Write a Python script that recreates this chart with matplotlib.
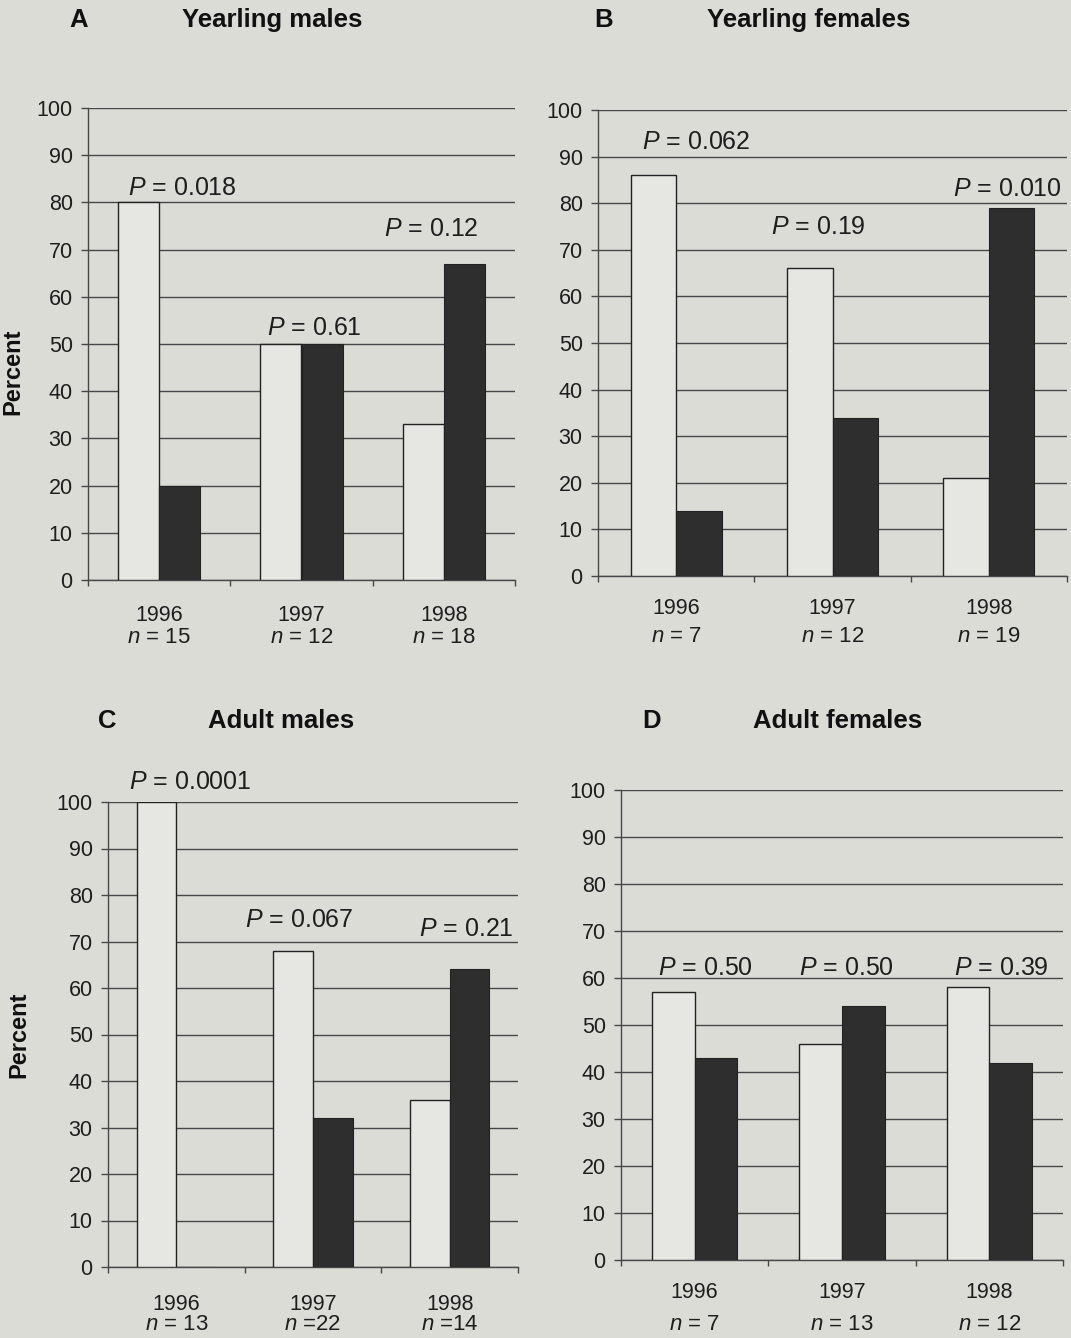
import matplotlib.pyplot as plt

plt.rcParams['font.family'] = ['Liberation Sans', 'DejaVu Sans']
plt.rcParams['mathtext.fontset'] = 'custom'
plt.rcParams['mathtext.rm'] = 'Liberation Sans'
plt.rcParams['mathtext.it'] = 'Liberation Sans:italic'

# ---- data ----
years = ['1996', '1997', '1998']

ym_open = [80, 50, 33]
ym_shaded = [20, 50, 67]
ym_n = ['= 15', '= 12', '= 18']
ym_p = ['0.018', '0.61', '0.12']

yf_open = [86, 66, 21]
yf_shaded = [14, 34, 79]
yf_n = ['= 7', '= 12', '= 19']
yf_p = ['0.062', '0.19', '0.010']

am_open = [100, 68, 36]
am_shaded = [0, 32, 64]
am_n = ['= 13', '=22', '=14']
am_p = ['0.0001', '0.067', '0.21']

af_open = [57, 46, 58]
af_shaded = [43, 54, 42]
af_n = ['= 7', '= 13', '= 12']
af_p = ['0.50', '0.50', '0.39']

# ---- layout (pixels of a 1071x1338 canvas) ----
W, H = 1071, 1338
BG = '#dcdcd7'
OPEN = '#e6e6e2'
SHADED = '#2e2e2e'
LINE = '#474747'

panels = [
    dict(letter='A', title='Yearling males', open=ym_open, shaded=ym_shaded,
         n=ym_n, p=ym_p, box=(88, 515, 108, 580), ylabel=(13, 372),
         letter_xy=(79, 20), title_xy=(272, 20),
         p_xy=[(0.16, 83), (1.09, 53.4), (1.91, 74.3)], lab_off=(35, 57)),
    dict(letter='B', title='Yearling females', open=yf_open, shaded=yf_shaded,
         n=yf_n, p=yf_p, box=(598, 1067, 110, 576), ylabel=None,
         letter_xy=(604, 20), title_xy=(809, 20),
         p_xy=[(0.13, 93.2), (0.91, 74.8), (2.12, 83.0)], lab_off=(33, 61)),
    dict(letter='C', title='Adult males', open=am_open, shaded=am_shaded,
         n=am_n, p=am_p, box=(108, 518, 802, 1267), ylabel=(19, 1035),
         letter_xy=(107, 721), title_xy=(281, 721),
         p_xy=[(0.10, 104.4), (0.90, 74.6), (2.12, 72.7)], lab_off=(37, 57)),
    dict(letter='D', title='Adult females', open=af_open, shaded=af_shaded,
         n=af_n, p=af_p, box=(621, 1063, 790, 1260), ylabel=None,
         letter_xy=(652, 721), title_xy=(838, 721),
         p_xy=[(0.07, 62.2), (1.03, 62.2), (2.08, 62.2)], lab_off=(33, 64)),
]

fig = plt.figure(figsize=(W / 100, H / 100), dpi=100, facecolor=BG)
px2pt = 72 / 100
bw = 0.29

for pan in panels:
    l, r, t, b = pan['box']
    ax = fig.add_axes([l / W, 1 - b / H, (r - l) / W, (b - t) / H])
    ax.set_facecolor(BG)
    x = list(range(len(years)))

    ax.bar([i - bw / 2 for i in x], pan['open'], width=bw, color=OPEN,
           edgecolor='#222222', linewidth=1.0, zorder=3)
    ax.bar([i + bw / 2 for i in x], pan['shaded'], width=bw, color=SHADED,
           edgecolor='#222222', linewidth=0.8, zorder=3)

    ax.set_xlim(-0.5, 2.5)
    ax.set_ylim(0, 100)
    ax.set_yticks(range(0, 101, 10))
    ax.set_xticks([-0.5, 0.5, 1.5, 2.5])
    ax.set_xticklabels([])
    ax.yaxis.grid(True, color=LINE, linewidth=1.0)
    ax.set_axisbelow(True)
    for s in ('top', 'right'):
        ax.spines[s].set_visible(False)
    for s in ('left', 'bottom'):
        ax.spines[s].set_color(LINE)
        ax.spines[s].set_linewidth(1.0)
    ax.tick_params(axis='y', length=5, width=1, color=LINE, pad=6,
                   labelsize=15.5, labelcolor='#1e1e1e')
    ax.tick_params(axis='x', length=4.5, width=1, color=LINE)

    off_year, off_n = pan['lab_off']
    for i, (yr, nn) in enumerate(zip(years, pan['n'])):
        ax.annotate(yr, xy=(i, 0), xytext=(0, -off_year * px2pt),
                    textcoords='offset points', ha='center', va='center',
                    fontsize=15.5, color='#1e1e1e')
        ax.annotate(r'$\it{n}$ ' + nn, xy=(i, 0), xytext=(0, -off_n * px2pt),
                    textcoords='offset points', ha='center', va='center',
                    fontsize=16, color='#1e1e1e')

    for (px, py), pv in zip(pan['p_xy'], pan['p']):
        ax.text(px, py, r'$\it{P}$ = ' + pv, ha='center', va='center',
                fontsize=18, color='#1e1e1e', clip_on=False)

    lx, ly = pan['letter_xy']
    fig.text(lx / W, 1 - ly / H, pan['letter'], ha='center', va='center',
             fontsize=18.5, fontweight='bold', color='#111111')
    tx, ty = pan['title_xy']
    fig.text(tx / W, 1 - ty / H, pan['title'], ha='center', va='center',
             fontsize=18.5, fontweight='bold', color='#111111')
    if pan['ylabel']:
        yx, yy = pan['ylabel']
        fig.text(yx / W, 1 - yy / H, 'Percent', ha='center', va='center',
                 rotation=90, fontsize=17, fontweight='bold', color='#111111')

fig.savefig('out.png', dpi=100, facecolor=BG)
